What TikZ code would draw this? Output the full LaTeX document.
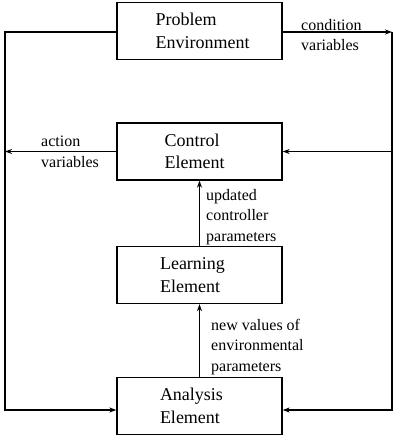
\documentclass[tikz,border=0pt]{standalone}
\usepackage{fontspec}
\setmainfont{Liberation Serif}
\usetikzlibrary{arrows.meta}
\newcommand{\padw}[1]{\rule{#1}{0pt}}
\tikzset{
  elem/.style={draw, line width=1.3pt, minimum width=165pt, minimum height=57pt, align=left, inner sep=0pt,
    font=\fontsize{18}{22.5}\selectfont},
  lbl/.style={anchor=west, align=left, inner sep=0pt, font=\fontsize{16}{20.5}\selectfont},
  conn/.style={line width=1.1pt},
  arr/.style={conn, -{Stealth[length=7pt,width=5pt]}}
}
\begin{document}
\begin{tikzpicture}[x=1pt,y=1pt]
\useasboundingbox (0,0) rectangle (400,-437);
\node[elem] (pe) at (199.5,-31) {\padw{6pt}Problem\\\padw{6pt}Environment};
\node[elem] (ce) at (199.5,-151.5) {Control\\Element\padw{10pt}};
\node[elem] (le) at (199.5,-275) {Learning\padw{14pt}\\Element};
\node[elem] (an) at (199.5,-406) {Analysis\padw{16pt}\\Element};
\coordinate (tl) at (5,-32);
\coordinate (bl) at (5,-410);
\coordinate (tr) at (392,-32);
\coordinate (br) at (392,-410);
\draw[arr] (pe.west |- tl) -- (tl) -- (bl) -- (an.west |- bl);
\draw[arr] (pe.east |- tr) -- (tr);
\draw[arr] (tr) -- (br) -- (an.east |- br);
\draw[arr] (tr |- ce) -- (ce.east);
\draw[arr] (ce.west) -- (tl |- ce);
\draw[arr] (le.north) -- (ce.south);
\draw[arr] (an.north) -- (le.south);
\node[lbl] (lc) at (301,-35) {condition\\variables};
\node[lbl] (la) at (41,-152) {action\\variables};
\node[lbl] (lu) at (206,-217) {updated\\controller\\parameters};
\node[lbl] (ln) at (211,-347) {new values of\\environmental\\parameters};
\end{tikzpicture}
\end{document}
